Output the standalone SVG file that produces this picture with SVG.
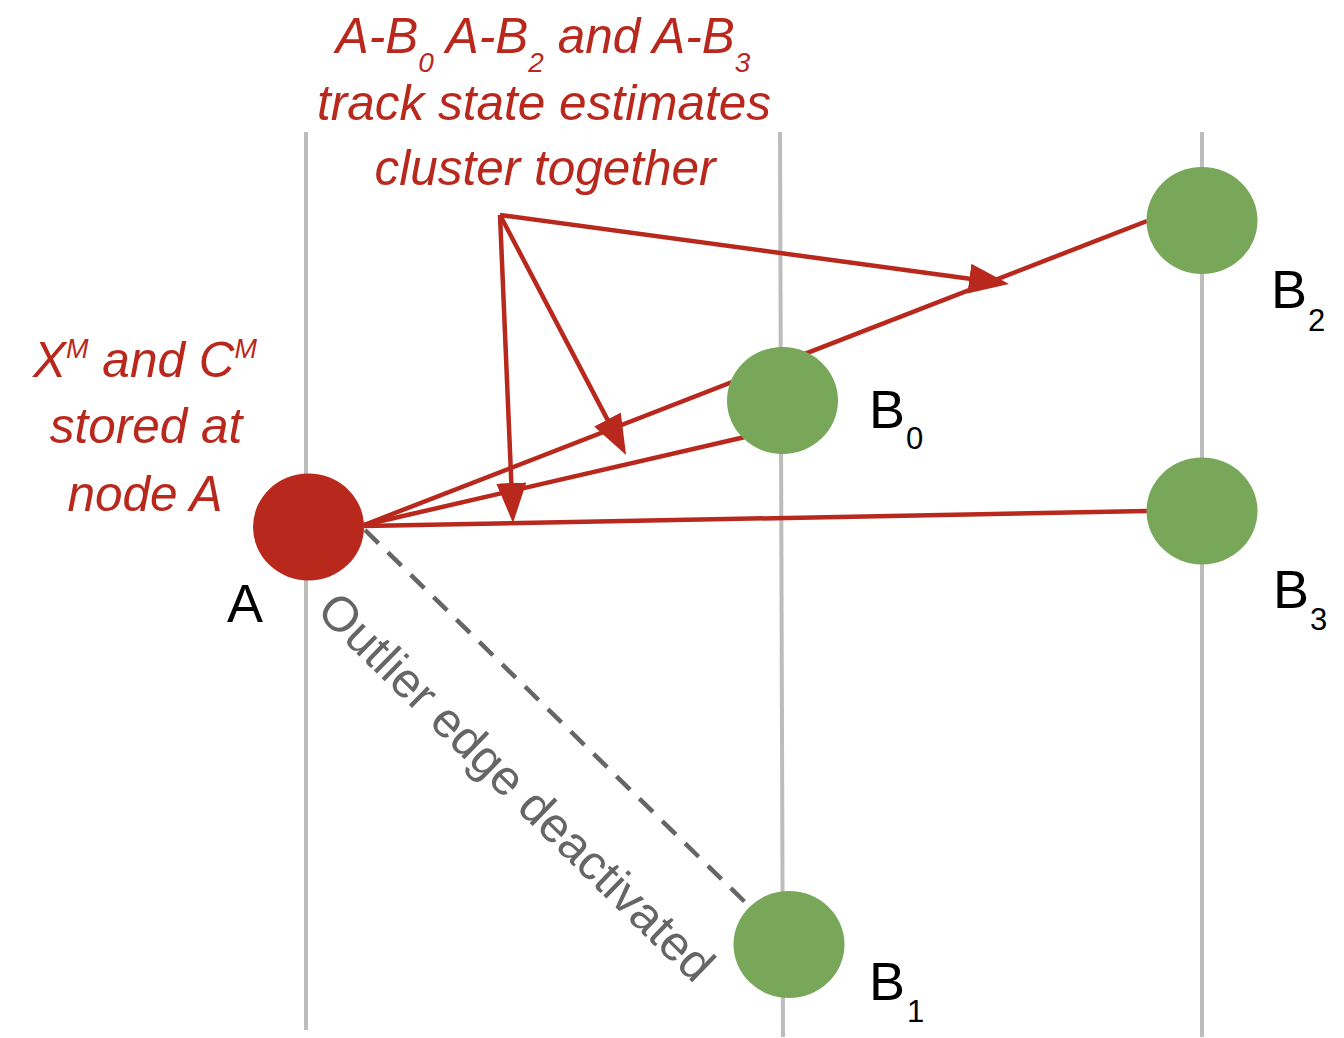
<svg xmlns="http://www.w3.org/2000/svg" width="1344" height="1038" viewBox="0 0 1344 1038">
<style>
.grid{stroke:#bdbdbd;stroke-width:4;fill:none}
.edge{stroke:#b8281d;stroke-width:4.5;fill:none}
.arr{stroke:#b8281d;stroke-width:4.5;fill:none;marker-end:url(#ah)}
.dash{stroke:#666;stroke-width:4.5;fill:none;stroke-dasharray:19 13}
.green{fill:#78a75a}
.red{fill:#b8281d}
.note{font-family:"Liberation Sans",Arial,sans-serif;font-style:italic;font-size:49.5px;fill:#b8281d}
.lbl{font-family:"Liberation Sans",Arial,sans-serif;font-size:54px;fill:#000}
.sub{font-size:31px}
.gray{font-family:"Liberation Sans",Arial,sans-serif;font-size:49px;fill:#666}
</style>
<defs>
<marker id="ah" markerUnits="userSpaceOnUse" viewBox="0 0 40 30" refX="30" refY="15" markerWidth="40" markerHeight="30" orient="auto">
<path d="M0,0 L40,15 L0,30 z" fill="#b8281d"/>
</marker>
</defs>
<rect width="1344" height="1038" fill="#fff"/>
<g id="grid">
<line class="grid" x1="306" y1="132" x2="306" y2="1030"/>
<line class="grid" x1="780" y1="132" x2="783" y2="1037"/>
<line class="grid" x1="1202" y1="132" x2="1202" y2="1037"/>
</g>
<g id="connectors">
<line class="edge" x1="364" y1="525" x2="1147" y2="221"/>
<line class="edge" x1="364" y1="525" x2="745" y2="437"/>
<line class="edge" x1="364" y1="526" x2="1147" y2="511"/>
<line class="dash" x1="365" y1="530" x2="750" y2="907"/>
<line class="arr" x1="500" y1="215" x2="999.1" y2="282.7"/>
<line class="arr" x1="500" y1="215" x2="621.4" y2="446.1"/>
<line class="arr" x1="500" y1="215" x2="512.6" y2="513"/>
</g>
<g id="node-A">
<ellipse class="red" cx="308.5" cy="527" rx="55.5" ry="53.5"/>
<text class="lbl" x="227" y="622">A</text>
</g>
<g id="node-B0">
<ellipse class="green" cx="782.5" cy="400.5" rx="55.5" ry="53.5"/>
<text class="lbl" x="869" y="428">B<tspan class="sub" dx="1" dy="21">0</tspan></text>
</g>
<g id="node-B2">
<ellipse class="green" cx="1202" cy="220.5" rx="55.5" ry="53.5"/>
<text class="lbl" x="1271" y="308">B<tspan class="sub" dx="1" dy="23">2</tspan></text>
</g>
<g id="node-B3">
<ellipse class="green" cx="1202" cy="511" rx="55.5" ry="53.5"/>
<text class="lbl" x="1273" y="608">B<tspan class="sub" dx="1" dy="22">3</tspan></text>
</g>
<g id="node-B1">
<ellipse class="green" cx="789" cy="944.5" rx="55.5" ry="53.5"/>
<text class="lbl" x="869" y="1000">B<tspan class="sub" dx="2" dy="22">1</tspan></text>
</g>
<g id="note-top">
<text class="note" x="543" y="53" text-anchor="middle">A-B<tspan font-size="28" dy="19">0</tspan><tspan dy="-19"> A-B</tspan><tspan font-size="28" dy="19">2</tspan><tspan dy="-19"> and A-B</tspan><tspan font-size="28" dy="19">3</tspan></text>
<text class="note" x="544" y="120" text-anchor="middle">track state estimates</text>
<text class="note" x="545" y="185" text-anchor="middle">cluster together</text>
</g>
<g id="note-left">
<text class="note" x="145" y="377" text-anchor="middle">X<tspan font-size="27" dy="-19">M</tspan><tspan dy="19"> and C</tspan><tspan font-size="27" dy="-19">M</tspan></text>
<text class="note" x="146" y="443" text-anchor="middle">stored at</text>
<text class="note" x="145" y="511" text-anchor="middle">node A</text>
</g>
<g id="label-outlier">
<text class="gray" transform="translate(315,613) rotate(44.4)">Outlier edge deactivated</text>
</g>
</svg>
